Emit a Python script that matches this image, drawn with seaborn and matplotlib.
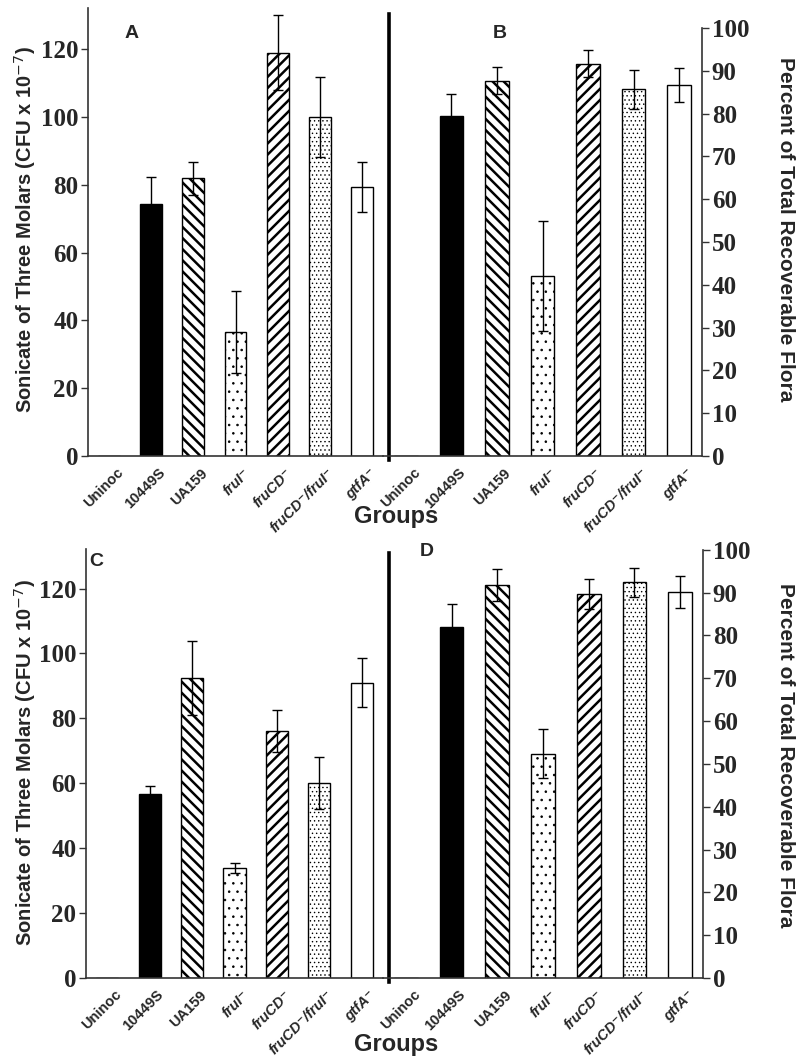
import numpy as np
import pandas as pd
import matplotlib
matplotlib.use("Agg")
import matplotlib.pyplot as plt
import matplotlib.transforms as mtransforms
import seaborn as sns

# groups on the x axis (same for every panel)
groups = ["Uninoc", "10449S", "UA159", "fruI⁻", "fruCD⁻", "fruCD⁻/fruI⁻", "gtfA⁻"]
italic_groups = ["fruI⁻", "fruCD⁻", "fruCD⁻/fruI⁻", "gtfA⁻"]

# panel A / C: sonicate counts (CFU x 10^-7)
a_vals = [0, 74.4, 81.9, 36.6, 119.0, 99.9, 79.4]
a_err = [0, 7.8, 5.0, 12.0, 11.0, 11.8, 7.3]
c_vals = [0, 56.6, 92.5, 34.0, 76.0, 60.0, 91.0]
c_err = [0, 2.5, 11.5, 1.5, 6.5, 8.0, 7.5]

# panel B / D: percent of total recoverable flora
b_vals = [0, 79.4, 87.7, 42.1, 91.7, 85.7, 86.7]
b_err = [0, 5.3, 3.1, 12.8, 3.2, 4.5, 4.0]
d_vals = [0, 82.0, 91.8, 52.4, 89.7, 92.4, 90.1]
d_err = [0, 5.4, 3.7, 5.8, 3.5, 3.3, 3.7]

fills = ["black", "black", "white", "white", "white", "white", "white"]
hatches = [None, None, "\\\\\\", "..", "///", "....", None]
hatch_lw = [1, 1, 1.8, 0.6, 1.8, 0.5, 1]

sns.set_theme(style="white")
plt.rcParams["font.family"] = ["Liberation Sans", "DejaVu Sans"]
plt.rcParams["hatch.linewidth"] = 1.6

W, H = 800, 1064
fig = plt.figure(figsize=(8, 10.64), dpi=100)


def box(x0, x1, ytop, ybot):
    return [x0 / W, 1 - ybot / H, (x1 - x0) / W, (ybot - ytop) / H]


def draw_bars(ax, vals, errs):
    df = pd.DataFrame({"group": groups, "value": vals})
    sns.barplot(data=df, x="group", y="value", hue="group", palette=fills,
                legend=False, width=0.52, ax=ax, saturation=1)
    for patch, h, hl in zip(ax.patches, hatches, hatch_lw):
        patch.set_edgecolor("black")
        patch.set_linewidth(1.0)
        if h:
            patch.set_hatch(h)
            if hasattr(patch, "set_hatch_linewidth"):
                patch.set_hatch_linewidth(hl)
    idx = np.arange(len(groups))
    errs = np.array(errs, dtype=float)
    keep = errs > 0
    ax.errorbar(idx[keep], np.array(vals)[keep], yerr=errs[keep], fmt="none",
                ecolor="black", elinewidth=1.0, capsize=3.5, capthick=1.0, zorder=5)
    ax.set_xlim(-0.5, len(groups) - 0.5)
    ax.set_xlabel("")
    ax.set_ylabel("")
    ax.set_xticks(idx)
    ax.set_xticks(np.arange(-0.5, len(groups)), minor=True)
    ax.tick_params(axis="x", which="major", length=0, pad=7)
    ax.tick_params(axis="x", which="minor", length=5, width=1, color="#333", direction="out")
    ax.set_xticklabels(groups, rotation=45, ha="right", rotation_mode="anchor",
                       fontsize=10.5, fontweight="bold")
    shift = mtransforms.ScaledTranslation(7 / 100, 0, fig.dpi_scale_trans)
    for lab in ax.get_xticklabels():
        lab.set_transform(lab.get_transform() + shift)
        if lab.get_text() in italic_groups:
            lab.set_fontstyle("italic")
    ax.spines["top"].set_visible(False)
    ax.spines["bottom"].set_linewidth(1.2)
    ax.spines["bottom"].set_color("#333")
    ax.set_facecolor("none")


def style_yticks(ax):
    for lab in ax.get_yticklabels():
        lab.set_family("Liberation Serif")
        lab.set_fontweight("bold")
        lab.set_fontsize(18)


def left_panel(ax, vals, errs):
    draw_bars(ax, vals, errs)
    ax.set_ylim(0, 132.2)
    ax.set_yticks(np.arange(0, 121, 20))
    ax.spines["right"].set_visible(False)
    ax.spines["left"].set_linewidth(1.2)
    ax.spines["left"].set_color("#333")
    ax.tick_params(axis="y", left=True, length=5, width=1, color="#333", direction="out", pad=2)
    style_yticks(ax)


def right_panel(ax, vals, errs, ytop, div_top):
    draw_bars(ax, vals, errs)
    ax.set_ylim(0, ytop)
    ax.set_yticks(np.arange(0, 101, 10))
    ax.yaxis.tick_right()
    ax.spines["right"].set_bounds(0, 100)
    ax.spines["right"].set_linewidth(1.2)
    ax.spines["right"].set_color("#333")
    # thick divider between the two halves
    ax.spines["left"].set_position(("axes", 6 / 319))
    ax.spines["left"].set_linewidth(2.6)
    ax.spines["left"].set_color("black")
    ax.spines["left"].set_bounds(-1, div_top)
    ax.tick_params(axis="y", left=False, labelleft=False, right=True, labelright=True,
                   length=5, width=1, color="#333", direction="out", pad=2)
    style_yticks(ax)


axA = fig.add_axes(box(88, 383, 8, 456))
axB = fig.add_axes(box(383, 702, 8, 456))
axC = fig.add_axes(box(86, 383, 549, 978))
axD = fig.add_axes(box(383, 703, 549, 978))

left_panel(axA, a_vals, a_err)
right_panel(axB, b_vals, b_err, 104.7, 103.3)
left_panel(axC, c_vals, c_err)
right_panel(axD, d_vals, d_err, 100.2, 99.3)

# panel letters
for txt, x, y in [("A", 132, 33), ("B", 500, 33), ("C", 96, 561), ("D", 427, 552)]:
    fig.text(x / W, 1 - y / H, txt, ha="center", va="center", fontsize=14, fontweight="bold")

ylab_left = "Sonicate of Three Molars (CFU x 10$^{-7}$)"
ylab_right = "Percent of Total Recoverable Flora"
for yc_l, yc_r, yg in [(230, 229, 516), (763, 755, 1044)]:
    fig.text(25 / W, 1 - yc_l / H, ylab_left, rotation=90, ha="center", va="center",
             fontsize=14.5, fontweight="bold")
    fig.text(785 / W, 1 - yc_r / H, ylab_right, rotation=-90, ha="center", va="center",
             fontsize=15, fontweight="bold")
    fig.text(396 / W, 1 - yg / H, "Groups", ha="center", va="center",
             fontsize=17, fontweight="bold")

fig.savefig("out.png", dpi=100, facecolor="white")
